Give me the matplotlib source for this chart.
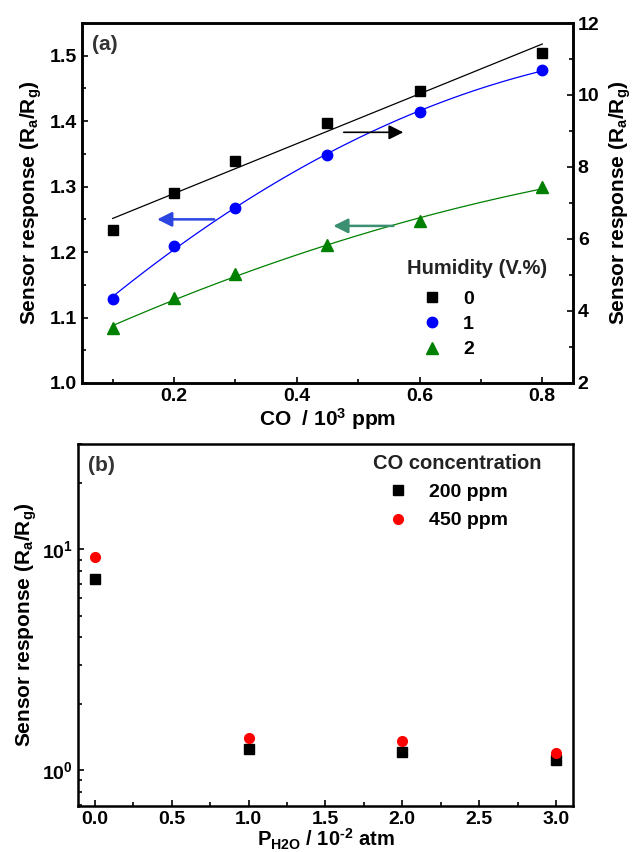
import numpy as np
import matplotlib
matplotlib.use("Agg")
import matplotlib.pyplot as plt
from matplotlib.ticker import MultipleLocator, LogLocator, NullFormatter

plt.rcParams['font.family'] = ['Liberation Sans', 'DejaVu Sans']
plt.rcParams['font.weight'] = 'bold'
plt.rcParams['mathtext.fontset'] = 'custom'
plt.rcParams['mathtext.rm'] = 'Liberation Sans:bold'
plt.rcParams['mathtext.it'] = 'Liberation Sans:bold'
plt.rcParams['mathtext.bf'] = 'Liberation Sans:bold'
plt.rcParams['mathtext.default'] = 'rm'

# ---- data panel (a) ----
co_conc = [0.1, 0.2, 0.3, 0.45, 0.6, 0.8]           # 10^3 ppm
resp_h0 = [6.25, 7.29, 8.17, 9.23, 10.12, 11.17]    # right axis
resp_h1 = [1.128, 1.210, 1.268, 1.349, 1.414, 1.478]  # left axis
resp_h2 = [1.084, 1.130, 1.166, 1.211, 1.247, 1.299]  # left axis
humid_labels = ['0', '1', '2']

# ---- data panel (b) ----
p_h2o = [0.0, 1.0, 2.0, 3.0]
resp_200 = [7.31, 1.254, 1.21, 1.11]
resp_450 = [9.26, 1.406, 1.357, 1.20]
co_labels = ['200 ppm', '450 ppm']

fig = plt.figure(figsize=(6.33, 8.52), dpi=100)

TICK_FS = 14
LAB_FS = 15

def style_axes(ax):
    for s in ax.spines.values():
        s.set_linewidth(1.8)
    ax.tick_params(which='both', direction='in', width=1.2, labelsize=TICK_FS)
    ax.tick_params(which='major', length=4.5)
    ax.tick_params(which='minor', length=3)

# ---------- panel (a) ----------
ax = fig.add_axes([0.1295, 0.5505, 0.7757, 0.4225])
ax2 = ax.twinx()
style_axes(ax)
style_axes(ax2)
ax.set_xlim(0.05, 0.85)
ax.set_ylim(1.0, 1.55)
ax2.set_ylim(2, 12)
ax.xaxis.set_major_locator(MultipleLocator(0.2))
ax.xaxis.set_minor_locator(MultipleLocator(0.1))
ax.yaxis.set_major_locator(MultipleLocator(0.1))
ax.yaxis.set_minor_locator(MultipleLocator(0.05))
ax2.yaxis.set_major_locator(MultipleLocator(2))
ax2.yaxis.set_minor_locator(MultipleLocator(1))
ax.tick_params(axis='both', which='both', top=False, right=False)
ax2.tick_params(axis='y', which='both', left=False, right=True)
ax.set_yticklabels([f'{v:.1f}' for v in ax.get_yticks()])

xs = np.array(co_conc)
xfit = np.linspace(min(co_conc), max(co_conc), 100)
c1 = np.polyfit(xs, resp_h1, 2)
c2 = np.polyfit(xs, resp_h2, 2)
c0 = np.polyfit(xs, resp_h0, 1)
ax.plot(xfit, np.polyval(c1, xfit), color='#0000ff', lw=0.9)
ax.plot(xfit, np.polyval(c2, xfit), color='#008000', lw=0.9)
ax2.plot(xfit, np.polyval(c0, xfit), color='black', lw=0.9)
h0, = ax2.plot(co_conc, resp_h0, 's', color='black', ms=7, ls='none')
h1, = ax.plot(co_conc, resp_h1, 'o', color='#0000ff', ms=7.5, ls='none')
h2, = ax.plot(co_conc, resp_h2, '^', color='#008000', ms=8, ls='none')

# arrows
ax.annotate('', xy=(0.168, 1.250), xytext=(0.27, 1.250),
            arrowprops=dict(arrowstyle='-|>', color='#2a45e0', lw=1.8, mutation_scale=22))
ax.annotate('', xy=(0.578, 1.383), xytext=(0.472, 1.383),
            arrowprops=dict(arrowstyle='-|>', color='black', lw=1.2, mutation_scale=22))
ax.annotate('', xy=(0.455, 1.240), xytext=(0.562, 1.240),
            arrowprops=dict(arrowstyle='-|>', color='#3a9070', lw=1.8, mutation_scale=22))

ax.set_xlabel(r'CO  / 10$^3$ ppm', fontsize=LAB_FS, fontweight='bold', labelpad=1)
ax.set_ylabel(r'Sensor response (R$_a$/R$_g$)', fontsize=LAB_FS, fontweight='bold', labelpad=4)
ax2.set_ylabel(r'Sensor response (R$_a$/R$_g$)', fontsize=LAB_FS, fontweight='bold', labelpad=6)
ax.text(0.02, 0.94, '(a)', transform=ax.transAxes, fontsize=LAB_FS, fontweight='bold',
        color='#333333', ha='left', va='center')

ax.text(0.662, 0.317, 'Humidity (V.%)', transform=ax.transAxes, fontsize=TICK_FS + 0.5,
        fontweight='bold', color='#222222', ha='left', va='center')
ax.legend([h0, h1, h2], humid_labels, loc='upper left', bbox_to_anchor=(0.693, 0.258),
          frameon=False, fontsize=TICK_FS, handlelength=1.0, handletextpad=1.1,
          labelspacing=0.4, borderpad=0, borderaxespad=0)

# ---------- panel (b) ----------
bx = fig.add_axes([0.1232, 0.054, 0.7820, 0.4249])
style_axes(bx)
bx.set_yscale('log')
bx.set_xlim(-0.11, 3.11)
bx.set_ylim(0.69, 30)
bx.xaxis.set_major_locator(MultipleLocator(0.5))
bx.xaxis.set_minor_locator(MultipleLocator(0.25))
bx.yaxis.set_major_locator(LogLocator(base=10, numticks=10))
bx.yaxis.set_minor_locator(LogLocator(base=10, subs=np.arange(2, 10), numticks=10))
bx.yaxis.set_minor_formatter(NullFormatter())
bx.tick_params(axis='both', which='both', top=False, right=False)
bx.set_xticklabels([f'{v:.1f}' for v in bx.get_xticks()])

g0, = bx.plot(p_h2o, resp_200, 's', color='black', ms=7, ls='none')
g1, = bx.plot(p_h2o, resp_450, 'o', color='#ff0000', ms=7, ls='none')

bx.set_xlabel(r'P$_{H2O}$ / 10$^{\text{-}2}$ atm', fontsize=LAB_FS - 0.5, fontweight='bold', labelpad=-1)
bx.set_ylabel(r'Sensor response (R$_a$/R$_g$)', fontsize=LAB_FS, fontweight='bold', labelpad=2)
bx.text(0.02, 0.94, '(b)', transform=bx.transAxes, fontsize=LAB_FS, fontweight='bold',
        color='#333333', ha='left', va='center')
bx.text(0.596, 0.945, 'CO concentration', transform=bx.transAxes, fontsize=TICK_FS + 0.5,
        fontweight='bold', color='#222222', ha='left', va='center')
bx.legend([g0, g1], co_labels, loc='upper left', bbox_to_anchor=(0.627, 0.891),
          frameon=False, fontsize=TICK_FS, handlelength=1.0, handletextpad=1.1,
          labelspacing=0.55, borderpad=0, borderaxespad=0)

fig.savefig('out.png', dpi=100)
